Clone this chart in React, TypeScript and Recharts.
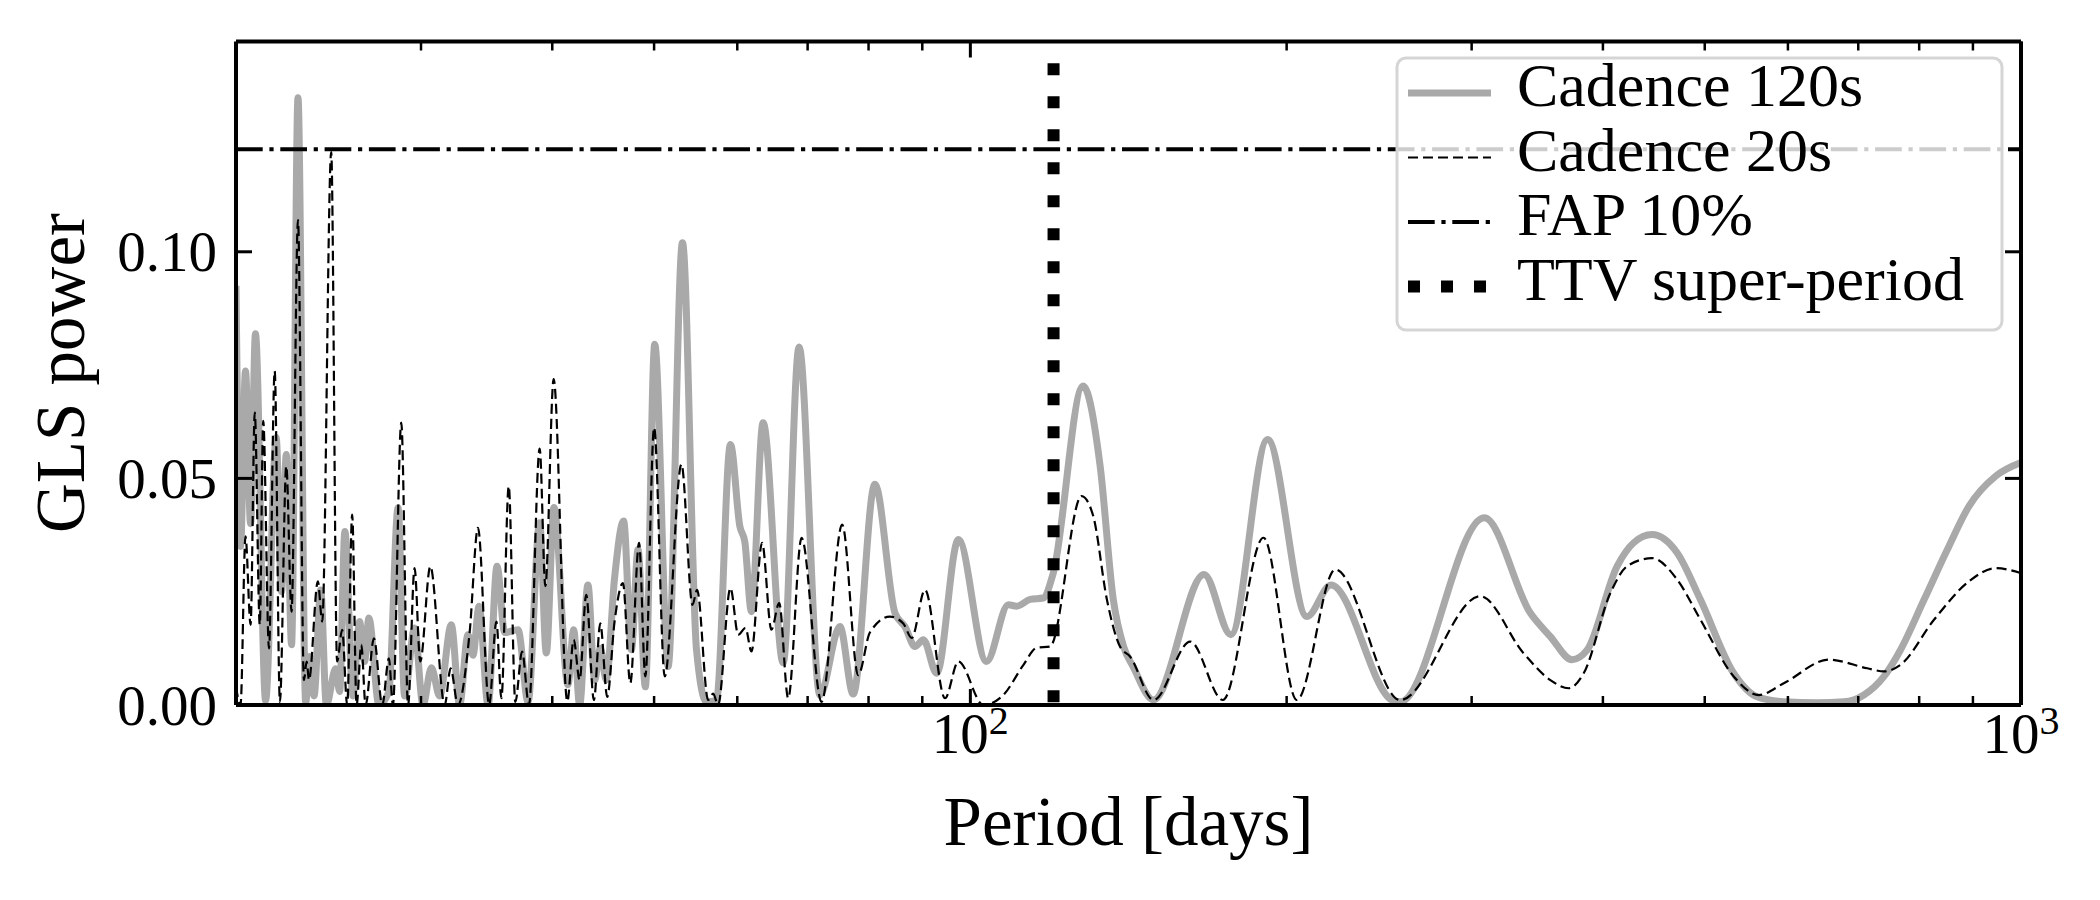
// GLS periodogram of the TTV residuals, two cadences, log period axis.
// The frame uses inward ticks on all four sides (matplotlib style), drawn by custom tick renderers.
import { Line, LineChart, ReferenceLine, XAxis, YAxis } from "recharts";

const FONT = "'Liberation Serif', 'DejaVu Serif', serif";

// Cadence 120s (grey, thick)
const PERIOD_120 = [
  20.0, 20.2, 20.42, 20.65, 20.87, 21.34, 21.84, 22.1, 22.33, 22.59, 22.91, 23.3, 23.5, 23.73, 24.08, 24.38,
  24.88, 25.1, 25.39, 25.84, 26.22, 26.51, 26.76, 27.36, 27.96, 28.53, 28.94, 29.58, 30.13, 30.69, 31.25,
  32.06, 32.65, 33.25, 33.62, 34.07, 34.75, 35.44, 36.04, 37.11, 37.93, 38.91, 39.48, 40.15, 41.4, 41.92,
  42.47, 43.25, 43.89, 44.44, 45.02, 45.85, 46.77, 47.57, 48.27, 49.05, 50.07, 51.56, 53.21, 54.87, 56.08,
  57.32, 59.11, 60.34, 61.0, 61.89, 63.49, 66.35, 68.7, 71.91, 75.13, 77.35, 81.12, 84.77, 86.65, 88.57,
  90.21, 92.88, 97.41, 103.6, 108.7, 110.7, 114.0, 117.3, 119.9, 128.0, 132.9, 136.8, 139.9, 142.9, 149.4,
  166.9, 177.0, 191.8, 209.1, 220.4, 251.9, 256.5, 308.4, 341.2, 356.5, 373.8, 386.3, 412.6, 427.9, 445.5,
  470.6, 495.4, 532.8, 560.8, 594.6, 639.7, 678.3, 708.7, 740.6, 768.1, 808.5, 851.0, 892.4, 946.0, 1000,
];
const POWER_120 = [
  0.0925, 0.035, 0.0737, 0.04, 0.0819, 0.001, 0.059, 0.025, 0.0553, 0.0133, 0.134, 0.0005, 0.0107, 0.002, 0.0254, 0.0,
  0.008, 0.003, 0.0383, 0.002, 0.0184, 0.0096, 0.0192, 0.0, 0.003, 0.0435, 0.002, 0.017, 0.0, 0.0082, 0.002,
  0.0177, 0.0, 0.0155, 0.011, 0.0218, 0.0, 0.0306, 0.016, 0.0166, 0.0007, 0.0402, 0.0115, 0.0436, 0.0045, 0.0166,
  0.0, 0.0265, 0.0055, 0.0125, 0.0055, 0.028, 0.0406, 0.0122, 0.0343, 0.004, 0.0796, 0.0085, 0.102, 0.0122, 0.0007,
  0.001, 0.0575, 0.0394, 0.036, 0.0206, 0.0623, 0.0093, 0.079, 0.0022, 0.0173, 0.0024, 0.0487, 0.0203, 0.0173, 0.0129,
  0.0144, 0.007, 0.0365, 0.0096, 0.0221, 0.0218, 0.0233, 0.0236, 0.029, 0.0704, 0.0527, 0.0232, 0.0129, 0.0084, 0.0011,
  0.0288, 0.0155, 0.0586, 0.0195, 0.0265, 0.0011, 0.0007, 0.0413, 0.0203, 0.0151, 0.01, 0.0121, 0.0306, 0.0358, 0.0376,
  0.0336, 0.0232, 0.007, 0.0018, 0.0007, 0.0005, 0.0007, 0.0022, 0.0063, 0.0122, 0.0232, 0.0343, 0.0439, 0.0505, 0.0535,
];

// Cadence 20s (black, thin dashed)
const PERIOD_20 = [
  20.0, 20.2, 20.42, 20.65, 20.84, 21.07, 21.23, 21.5, 21.77, 22.02, 22.33, 22.59, 22.91, 23.21, 23.35, 23.47,
  23.93, 24.16, 24.64, 24.96, 25.24, 25.52, 25.8, 26.05, 26.32, 26.57, 27.06, 27.56, 27.96, 28.21, 28.73,
  29.16, 29.58, 29.95, 30.62, 31.6, 32.01, 32.53, 33.37, 33.99, 34.83, 35.39, 35.78, 36.36, 36.89, 37.44,
  38.01, 38.91, 39.4, 40.12, 41.34, 41.92, 42.47, 43.09, 43.82, 44.44, 45.12, 45.85, 46.7, 47.46, 48.38,
  49.05, 50.0, 51.18, 53.09, 54.39, 54.94, 56.29, 56.91, 57.53, 59.11, 60.12, 61.09, 61.89, 63.35, 64.66,
  65.77, 67.08, 69.08, 72.17, 75.51, 78.21, 80.24, 83.84, 86.33, 87.93, 90.54, 94.59, 97.41, 102.9, 107.5,
  112.3, 115.6, 119.1, 127.6, 130.9, 134.9, 138.8, 141.9, 149.4, 161.9, 173.9, 190.1, 204.5, 222.5, 256.5,
  305.7, 336.2, 356.5, 371.1, 383.5, 406.6, 421.7, 445.5, 470.6, 495.4, 532.8, 562.9, 594.6, 656.3, 714.0,
  740.6, 768.1, 826.4, 892.4, 946.0, 1000,
];
const POWER_20 = [
  0.004, 0.0, 0.0372, 0.0177, 0.0645, 0.0177, 0.0627, 0.0125, 0.0737, 0.0007, 0.0527, 0.0206, 0.107, 0.0055, 0.0096, 0.0055,
  0.0273, 0.0184, 0.122, 0.0096, 0.0166, 0.0, 0.042, 0.0, 0.0133, 0.0, 0.0147, 0.0, 0.0103, 0.0, 0.0623,
  0.0, 0.0302, 0.0096, 0.0306, 0.0, 0.0081, 0.0, 0.0159, 0.0391, 0.0, 0.0184, 0.0015, 0.0483, 0.0007, 0.0118,
  0.0, 0.0566, 0.0262, 0.0719, 0.0008, 0.0144, 0.0055, 0.0243, 0.0011, 0.018, 0.0018, 0.0184, 0.0269, 0.0048, 0.0358,
  0.0063, 0.0612, 0.0063, 0.0531, 0.0221, 0.0254, 0.0011, 0.0025, 0.0, 0.0258, 0.0155, 0.017, 0.0118, 0.0358, 0.0166,
  0.0225, 0.0015, 0.0369, 0.0007, 0.0398, 0.0066, 0.016, 0.0195, 0.018, 0.0148, 0.0254, 0.0015, 0.0096, 0.0, 0.0022,
  0.0088, 0.0126, 0.0129, 0.0461, 0.0417, 0.0232, 0.0129, 0.0107, 0.0011, 0.014, 0.0011, 0.0369, 0.0011, 0.0299, 0.0011,
  0.024, 0.0114, 0.0055, 0.0037, 0.007, 0.0247, 0.0306, 0.0324, 0.0277, 0.0188, 0.0063, 0.0022, 0.0048, 0.01, 0.0081,
  0.0074, 0.0089, 0.0188, 0.0273, 0.0302, 0.0291,
];

const X_TICKS = [30, 40, 50, 60, 70, 80, 90, 100, 200, 300, 400, 500, 600, 700, 800, 900, 1000];
const X_MAJOR = [100, 1000];
const Y_TICKS = [0, 0.05, 0.1];
const X_DOMAIN: [number, number] = [20, 1000];
const Y_DOMAIN: [number, number] = [0, 0.1464];

const FAP_LEVEL = 0.1226;
const TTV_PERIOD = 120;
const TTV_TOP = 0.1416;

const cad120 = PERIOD_120.map((p, i) => ({ p, v: POWER_120[i] }));
const cad20 = PERIOD_20.map((p, i) => ({ p, v: POWER_20[i] }));

const MAJOR_LEN = 16;
const MINOR_LEN = 9;

function BottomTick(props: any) {
  const { x, y, payload } = props;
  const major = X_MAJOR.includes(payload.value);
  return (
    <g>
      <line x1={x} x2={x} y1={y} y2={y - (major ? MAJOR_LEN : MINOR_LEN)} stroke="#000" strokeWidth={major ? 3 : 2.5} />
      {major && (
        <text x={x} y={y + 48} textAnchor="middle" fontSize={57} fontFamily={FONT} fill="#000">
          10
          <tspan dy={-19} fontSize={40}>
            {Math.round(Math.log10(payload.value))}
          </tspan>
        </text>
      )}
    </g>
  );
}

function TopTick(props: any) {
  const { x, y, payload } = props;
  const major = X_MAJOR.includes(payload.value);
  return <line x1={x} x2={x} y1={y} y2={y + (major ? MAJOR_LEN : MINOR_LEN)} stroke="#000" strokeWidth={major ? 3 : 2.5} />;
}

function LeftTick(props: any) {
  const { x, y, payload } = props;
  return (
    <g>
      <line x1={x} x2={x + MAJOR_LEN} y1={y} y2={y} stroke="#000" strokeWidth={3} />
      <text x={x - 19} y={y} textAnchor="end" dominantBaseline="central" fontSize={57} fontFamily={FONT} fill="#000">
        {Number(payload.value).toFixed(2)}
      </text>
    </g>
  );
}

function RightTick(props: any) {
  const { x, y } = props;
  return <line x1={x} x2={x - MAJOR_LEN} y1={y} y2={y} stroke="#000" strokeWidth={3} />;
}

const frame = { stroke: "#000", strokeWidth: 4 };

function LegendOverlay() {
  const left = 1408;
  const right = 1491;
  const textX = 1517;
  const rows = [
    { label: "Cadence 120s", stroke: "#a9a9a9", width: 7, dash: undefined as string | undefined },
    { label: "Cadence 20s", stroke: "#000", width: 2.2, dash: "10 5" },
    { label: "FAP 10%", stroke: "#000", width: 4, dash: "26.7 6.7 4.2 6.7" },
    { label: "TTV super-period", stroke: "#000", width: 12, dash: "12 21" },
  ];
  return (
    <svg width={2100} height={900} style={{ position: "absolute", left: 0, top: 0, pointerEvents: "none" }}>
      <rect x={1397} y={58} width={605} height={272} rx={9} fill="#fff" fillOpacity={0.8} stroke="#d5d5d5" strokeWidth={3} />
      {rows.map((r, i) => {
        const base = 106 + i * 64.5;
        return (
          <g key={r.label}>
            <line x1={left} x2={right} y1={base - 13} y2={base - 13} stroke={r.stroke} strokeWidth={r.width} strokeDasharray={r.dash} />
            <text x={textX} y={base} fontSize={62} fontFamily={FONT} fill="#000">
              {r.label}
            </text>
          </g>
        );
      })}
      <text x={1128.5} y={845} textAnchor="middle" fontSize={69} fontFamily={FONT} fill="#000">
        Period [days]
      </text>
      <text x={84} y={373} transform="rotate(-90 84 373)" textAnchor="middle" fontSize={69} fontFamily={FONT} fill="#000">
        GLS power
      </text>
    </svg>
  );
}

export default function App() {
  return (
    <div style={{ position: "absolute", left: 0, top: 0, width: 2100, height: 900, background: "#fff" }}>
      {/* axes get a 1px band each; a zero-sized axis is not drawn at all */}
      <LineChart width={2100} height={900} margin={{ top: 40.5, right: 78, bottom: 194, left: 235 }}>
        <XAxis xAxisId="b" dataKey="p" type="number" scale="log" domain={X_DOMAIN} allowDataOverflow ticks={X_TICKS} interval={0} tick={BottomTick} tickLine={false} tickSize={0} tickMargin={0} axisLine={frame} height={1} />
        <XAxis xAxisId="t" orientation="top" dataKey="p" type="number" scale="log" domain={X_DOMAIN} allowDataOverflow ticks={X_TICKS} interval={0} tick={TopTick} tickLine={false} tickSize={0} tickMargin={0} axisLine={frame} height={1} />
        <YAxis yAxisId="l" type="number" domain={Y_DOMAIN} allowDataOverflow ticks={Y_TICKS} interval={0} tick={LeftTick} tickLine={false} tickSize={0} tickMargin={0} axisLine={frame} width={1} />
        <YAxis yAxisId="r" orientation="right" type="number" domain={Y_DOMAIN} allowDataOverflow ticks={Y_TICKS} interval={0} tick={RightTick} tickLine={false} tickSize={0} tickMargin={0} axisLine={frame} width={1} />
        <Line xAxisId="b" yAxisId="l" data={cad120} dataKey="v" name="Cadence 120s" type="monotone" stroke="#a9a9a9" strokeWidth={7} dot={false} isAnimationActive={false} />
        <Line xAxisId="b" yAxisId="l" data={cad20} dataKey="v" name="Cadence 20s" type="monotone" stroke="#000" strokeWidth={2.2} strokeDasharray="10 5" dot={false} isAnimationActive={false} />
        <ReferenceLine xAxisId="b" yAxisId="l" y={FAP_LEVEL} stroke="#000" strokeWidth={4} strokeDasharray="26.7 6.7 4.2 6.7" />
        <ReferenceLine
          xAxisId="b"
          yAxisId="l"
          segment={[
            { x: TTV_PERIOD, y: TTV_TOP },
            { x: TTV_PERIOD, y: 0 },
          ]}
          stroke="#000"
          strokeWidth={12}
          strokeDasharray="12 21"
        />
      </LineChart>
      <LegendOverlay />
    </div>
  );
}
